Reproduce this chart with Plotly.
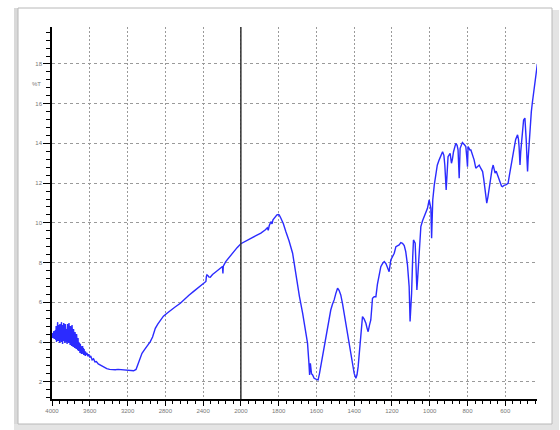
import numpy as np
import plotly.graph_objects as go

# FTIR transmittance spectrum, 4000-2000 cm-1 (compressed scale)
# O-H stretch region with dense ripple
wn_oh = [4000, 3996, 3992, 3988, 3984, 3980, 3976, 3972, 3968, 3964,
         3960, 3956, 3952, 3948, 3944, 3940, 3936, 3932, 3928, 3924,
         3920, 3916, 3912, 3908, 3904, 3900, 3896, 3892, 3888, 3884,
         3880, 3876, 3872, 3868, 3864, 3860, 3856, 3852, 3848, 3844,
         3840, 3836, 3832, 3828, 3824, 3820, 3816, 3812, 3808, 3804,
         3800, 3796, 3792, 3788, 3784, 3780, 3776, 3772, 3768, 3764,
         3760, 3756, 3752, 3748, 3744, 3740, 3736, 3732, 3728, 3724,
         3720, 3716, 3712, 3708, 3704, 3700, 3696, 3692, 3688, 3684,
         3680, 3676, 3672, 3668, 3664, 3660, 3656, 3652, 3648, 3644]
t_oh = [4.30, 4.45, 4.20, 4.50, 4.25, 4.55, 4.15, 4.45, 4.30, 4.60,
        4.10, 4.80, 4.00, 4.90, 4.20, 5.00, 4.05, 4.70, 4.10, 4.85,
        3.95, 4.90, 4.15, 4.75, 4.00, 5.00, 4.10, 4.60, 3.90, 4.85,
        4.05, 4.95, 4.20, 4.70, 3.95, 4.90, 4.10, 4.80, 4.00, 4.65,
        3.90, 4.90, 4.05, 4.75, 3.95, 4.95, 4.15, 4.60, 3.85, 4.80,
        4.00, 4.70, 3.80, 4.85, 3.95, 4.50, 3.75, 4.65, 3.90, 4.40,
        3.70, 4.50, 3.80, 4.30, 3.65, 4.40, 3.75, 4.10, 3.60, 4.20,
        3.55, 4.00, 3.60, 3.95, 3.45, 3.90, 3.55, 3.80, 3.40, 3.75,
        3.45, 3.80, 3.40, 3.70, 3.35, 3.65, 3.40, 3.55, 3.30, 3.50]

wn_hi = [3640, 3630, 3620, 3610, 3600, 3590, 3575, 3560, 3545, 3530, 3510,
         3490, 3470, 3450, 3420, 3390, 3360, 3330, 3300, 3270, 3240, 3210, 3180, 3150,
         3136, 3110, 3090, 3070, 3047, 3020, 3000, 2980, 2959, 2935, 2906, 2880, 2850,
         2820, 2782, 2740, 2700, 2641, 2600, 2550, 2500, 2460, 2429, 2400, 2370, 2365,
         2359, 2350, 2340, 2324, 2300, 2260, 2220, 2195, 2190, 2186, 2160, 2120, 2080,
         2040, 2000]
t_hi = [3.35, 3.45, 3.28, 3.38, 3.22, 3.30, 3.10, 3.15, 3.00, 3.02, 2.90,
        2.85, 2.78, 2.72, 2.66, 2.62, 2.60, 2.60, 2.62, 2.60, 2.58, 2.58, 2.55, 2.54,
        2.55, 2.62, 2.85, 3.15, 3.43, 3.62, 3.75, 3.90, 4.02, 4.25, 4.69, 4.90, 5.10,
        5.30, 5.45, 5.62, 5.75, 5.95, 6.15, 6.35, 6.55, 6.70, 6.82, 6.95, 7.05, 7.30,
        7.38, 7.35, 7.28, 7.26, 7.40, 7.55, 7.70, 7.80, 7.45, 7.82, 8.05, 8.30, 8.55,
        8.75, 8.95]

# 2000-400 cm-1 (expanded scale)
wn_lo = [1970, 1947, 1920, 1894, 1870, 1860, 1855, 1850, 1841, 1835, 1830, 1820, 1809,
         1800, 1797, 1788, 1775, 1762, 1745, 1726, 1712, 1700, 1690, 1673, 1660, 1647,
         1640, 1636, 1632, 1626, 1620, 1612, 1600, 1591, 1584, 1576, 1568, 1559, 1550,
         1541, 1532, 1524, 1515, 1506, 1497, 1488, 1480, 1471, 1462, 1453, 1444, 1435,
         1426, 1418, 1409, 1400, 1391, 1385, 1379, 1373, 1368, 1362, 1356, 1347, 1338,
         1332, 1326, 1319, 1312, 1307, 1303, 1294, 1285, 1277, 1268, 1259, 1250, 1241,
         1232, 1223, 1215, 1206, 1188, 1179, 1162, 1153, 1144, 1135, 1127, 1118, 1109,
         1104, 1100, 1096, 1090, 1086, 1077, 1072, 1068, 1064, 1061, 1054, 1047, 1038,
         1030, 1020, 1012, 1003, 997, 994, 990, 987, 984, 976, 968, 960, 950, 940, 932,
         925, 920, 913, 908, 903, 892, 885, 880, 874, 862, 855, 850, 844, 839, 827, 815,
         809, 804, 800, 797, 787, 782, 773, 765, 756, 747, 738, 730, 720, 714, 708, 702,
         698, 692, 686, 677, 670, 664, 659, 654, 648, 641, 634, 627, 620, 615, 605, 597,
         590, 585, 578, 571, 562, 553, 545, 535, 530, 527, 522, 518, 514, 508, 503, 496,
         492, 489, 485, 482, 479, 475, 468, 462, 457, 452, 447, 441, 436, 430]
t_lo = [9.12, 9.22, 9.35, 9.48, 9.65, 9.75, 9.62, 9.85, 10.06, 9.95, 10.15, 10.25, 10.40,
        10.42, 10.40, 10.23, 9.95, 9.56, 9.10, 8.47, 7.60, 6.85, 6.30, 5.45, 4.70, 3.94,
        3.00, 2.34, 2.93, 2.40, 2.34, 2.17, 2.12, 2.09, 2.40, 2.84, 3.30, 3.77, 4.30,
        4.77, 5.20, 5.61, 5.90, 6.12, 6.45, 6.71, 6.60, 6.37, 5.95, 5.45, 4.95, 4.44,
        3.95, 3.43, 2.90, 2.42, 2.17, 2.35, 2.76, 3.40, 4.10, 4.75, 5.28, 5.15, 4.94,
        4.70, 4.52, 4.85, 5.11, 5.70, 6.20, 6.28, 6.28, 6.90, 7.46, 7.79, 7.95, 8.05,
        7.95, 7.72, 7.54, 8.13, 8.47, 8.80, 8.89, 9.00, 8.97, 8.85, 8.55, 7.90, 6.79,
        5.03, 5.60, 6.45, 8.30, 9.14, 8.97, 8.00, 6.62, 7.20, 7.79, 8.90, 9.81, 10.10,
        10.31, 10.50, 10.73, 11.15, 10.95, 10.73, 9.22, 10.20, 11.15, 11.90, 12.50, 12.90,
        13.17, 13.45, 13.58, 13.40, 12.90, 11.66, 12.60, 13.33, 13.50, 13.00, 13.20, 13.58,
        14.00, 13.90, 13.67, 12.24, 13.75, 14.04, 13.92, 13.84, 13.33, 12.83, 13.84, 13.67,
        13.67, 13.40, 13.17, 12.75, 12.85, 12.91, 12.75, 12.58, 12.20, 11.66, 11.20,
        10.99, 11.30, 11.66, 12.41, 12.70, 12.91, 12.70, 12.50, 12.60, 12.41, 12.20,
        12.00, 11.85, 11.82, 11.90, 11.91, 11.95, 11.99, 12.40, 12.83, 13.40, 13.84,
        14.20, 14.43, 14.20, 13.84, 12.91, 13.60, 14.17, 14.80, 15.18, 15.27, 14.80,
        14.17, 13.20, 12.58, 13.20, 13.84, 15.18, 15.60, 16.02, 16.40, 16.86, 17.20,
        17.53, 18.00]

x_tick_labels = ["4000", "3600", "3200", "2800", "2400", "2000", "1800", "1600",
                 "1400", "1200", "1000", "800", "600"]
x_tick_values = [4000, 3600, 3200, 2800, 2400, 2000, 1800, 1600,
                 1400, 1200, 1000, 800, 600]
y_tick_values = [2, 4, 6, 8, 10, 12, 14, 16, 18]

SCALE_BREAK = 2000


def to_axis(w):
    """Below 2000 cm-1 the wavenumber scale is expanded two-fold."""
    w = np.asarray(w, dtype=float)
    return np.where(w >= SCALE_BREAK, w, 2 * w - SCALE_BREAK)


wn = np.array(wn_oh + wn_hi + wn_lo)
tr = np.array(t_oh + t_hi + t_lo)

fig = go.Figure()
fig.add_trace(go.Scatter(
    x=to_axis(wn), y=tr, mode="lines",
    line=dict(color="#2b2bff", width=1.4),
    hoverinfo="skip", showlegend=False,
))

W, H = 560, 430
L, R, T, B = 52, 23, 27, 31
pw, ph = W - L - R, H - T - B


def px(x):
    return (x - L) / pw


def py(y):
    return (H - B - y) / ph


shapes = [
    # window shadow
    dict(type="rect", xref="paper", yref="paper", x0=px(14), x1=px(18), y0=py(424), y1=py(8),
         fillcolor="#d9d9d9", line=dict(width=0), layer="below"),
    dict(type="rect", xref="paper", yref="paper", x0=px(552), x1=px(559), y0=py(430), y1=py(10),
         fillcolor="#e4e4e4", line=dict(width=0), layer="below"),
    dict(type="rect", xref="paper", yref="paper", x0=px(14), x1=px(559), y0=py(430), y1=py(424),
         fillcolor="#e4e4e4", line=dict(width=0), layer="below"),
    # window border
    dict(type="rect", xref="paper", yref="paper", x0=px(18), x1=px(552), y0=py(424), y1=py(8),
         fillcolor="rgba(0,0,0,0)", line=dict(color="#b8b8b8", width=1), layer="below"),
    # scale-change marker
    dict(type="line", xref="x", yref="paper", x0=SCALE_BREAK, x1=SCALE_BREAK, y0=0, y1=1,
         line=dict(color="#333333", width=1.5)),
]

tick_font = dict(family="Liberation Sans, Arial, sans-serif", size=6, color="#777777")

fig.update_layout(
    width=W, height=H,
    margin=dict(l=L, r=R, t=T, b=B),
    paper_bgcolor="white", plot_bgcolor="white",
    shapes=shapes,
    annotations=[dict(text="%T", xref="paper", yref="y", x=px(43), y=17,
                      xanchor="right", yanchor="middle", showarrow=False,
                      font=tick_font)],
    xaxis=dict(
        range=[4000, -1136], autorange=False,
        tickmode="array", tickvals=list(to_axis(x_tick_values)), ticktext=x_tick_labels,
        ticks="outside", ticklen=5, tickwidth=1, tickcolor="black",
        showline=True, linecolor="black", linewidth=1.5,
        showgrid=True, gridcolor="#9a9a9a", gridwidth=1, griddash="2px,2px",
        minor=dict(dtick=80, tick0=4000, ticks="outside", ticklen=3, tickcolor="black",
                   showgrid=False),
        zeroline=False, tickfont=tick_font,
    ),
    yaxis=dict(
        range=[1.13, 19.86], autorange=False,
        tickmode="array", tickvals=y_tick_values,
        ticks="outside", ticklen=7, tickwidth=1, tickcolor="black",
        showline=True, linecolor="black", linewidth=1.5,
        showgrid=True, gridcolor="#9a9a9a", gridwidth=1, griddash="3px,3px",
        minor=dict(dtick=0.4, tick0=2, ticks="outside", ticklen=4, tickcolor="black",
                   showgrid=False),
        zeroline=False, tickfont=tick_font,
    ),
)

fig.write_html("out.html")
